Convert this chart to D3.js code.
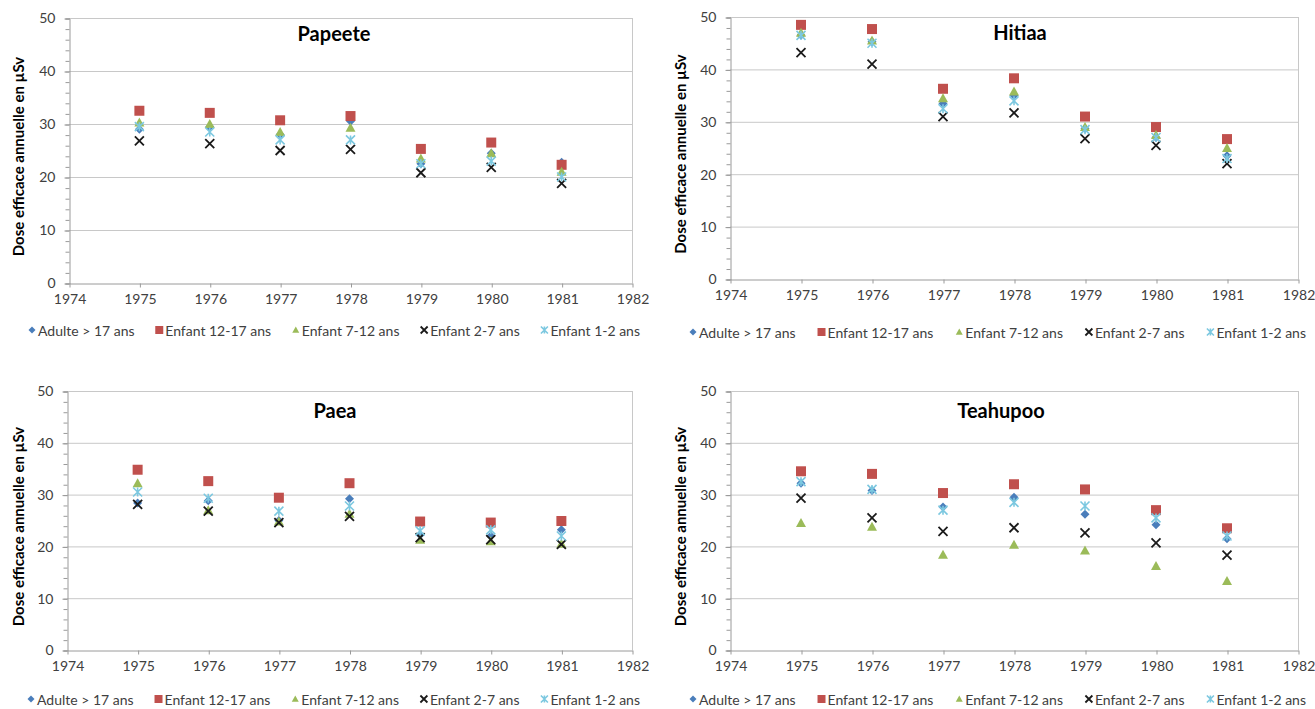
<!DOCTYPE html>
<html>
<head>
<meta charset="utf-8">
<script src="https://cdn.jsdelivr.net/npm/d3@7"></script>
<style>
  body { margin: 0; background: #fff; }
  text { font-family: Lato, "Open Sans", sans-serif; fill: #404040; }
</style>
</head>
<body>
<div id="svganchor"></div>
<script>
let width = 1315;
let height = 709;

// Categories / ticks
let years = [1975, 1976, 1977, 1978, 1979, 1980, 1981];
let xTicks = [1974, 1975, 1976, 1977, 1978, 1979, 1980, 1981, 1982];
let yTicks = [0, 10, 20, 30, 40, 50];
let seriesNames = ["Adulte > 17 ans", "Enfant 12-17 ans", "Enfant 7-12 ans", "Enfant 2-7 ans", "Enfant 1-2 ans"];
let siteNames = ["Papeete", "Hitiaa", "Paea", "Teahupoo"];
let yTitle = "Dose efficace annuelle en µSv";

// Values (µSv), one array per series, order as seriesNames
let papeeteValues = [
    [29.0, 29.5, 28.0, 30.5, 22.5, 24.5, 22.8],
    [32.5, 32.1, 30.7, 31.5, 25.3, 26.5, 22.3],
    [30.3, 30.0, 28.5, 29.3, 23.5, 24.5, 21.0],
    [26.8, 26.3, 25.0, 25.2, 20.8, 21.8, 18.8],
    [29.5, 28.5, 27.0, 27.0, 22.5, 23.0, 20.0]
];
let hitiaaValues = [
    [46.5, 45.3, 33.5, 35.0, 28.7, 27.0, 23.5],
    [48.5, 47.7, 36.3, 38.3, 31.0, 29.0, 26.7],
    [47.0, 45.5, 34.5, 35.8, 29.0, 27.5, 25.0],
    [43.2, 41.0, 31.0, 31.7, 26.8, 25.5, 22.0],
    [46.5, 45.0, 32.5, 34.0, 28.5, 27.0, 23.0]
];
let paeaValues = [
    [28.4, 28.8, 25.0, 29.2, 22.2, 22.0, 23.2],
    [34.8, 32.6, 29.4, 32.2, 24.8, 24.6, 24.9],
    [32.2, 27.0, 24.8, 26.3, 21.3, 21.0, 20.5],
    [28.1, 26.8, 24.6, 25.8, 21.7, 21.3, 20.4],
    [30.5, 29.3, 26.8, 27.8, 23.0, 23.2, 22.0]
];
let teahupooValues = [
    [32.2, 30.8, 27.6, 29.5, 26.2, 24.2, 21.5],
    [34.5, 34.0, 30.3, 32.0, 31.0, 27.0, 23.5],
    [24.5, 23.8, 18.4, 20.3, 19.2, 16.2, 13.3],
    [29.3, 25.5, 22.9, 23.6, 22.6, 20.7, 18.3],
    [32.5, 31.0, 27.0, 28.5, 27.8, 25.5, 22.0]
];
let allValues = [papeeteValues, hitiaaValues, paeaValues, teahupooValues];

let colors = ["#4A7EBB", "#C0504D", "#9BBB59", "#1a1a1a", "#7CC8E0"];

// Panel geometry (plot area in page pixels)
let panels = [
    {left: 69,  right: 632,  top: 18,  bottom: 283, titleX: 334,  titleY: 33,  legY: 330, legL: 28,  legR: 640, axisTitleX: 18},
    {left: 730, right: 1298, top: 17,  bottom: 279, titleX: 1020, titleY: 32,  legY: 332, legL: 689, legR: 1306, axisTitleX: 680},
    {left: 67,  right: 632,  top: 391, bottom: 650, titleX: 335,  titleY: 410, legY: 699, legL: 27,  legR: 640, axisTitleX: 18},
    {left: 730, right: 1298, top: 391, bottom: 650, titleX: 1001, titleY: 410, legY: 699, legL: 689, legR: 1306, axisTitleX: 680}
];

let svg = d3.select("#svganchor")
    .append("svg")
    .attr("width", width)
    .attr("height", height);

// Marker shapes, Excel style
function markerPath(kind, s) {
    let h = s / 2;
    let p = d3.path();
    if (kind === 0) {           // diamond
        p.moveTo(0, -h); p.lineTo(h, 0); p.lineTo(0, h); p.lineTo(-h, 0); p.closePath();
    } else if (kind === 1) {    // square
        p.rect(-h, -h, s, s);
    } else if (kind === 2) {    // triangle
        p.moveTo(0, -h); p.lineTo(h, h * 0.8); p.lineTo(-h, h * 0.8); p.closePath();
    } else if (kind === 3) {    // x
        p.moveTo(-h, -h); p.lineTo(h, h); p.moveTo(h, -h); p.lineTo(-h, h);
    } else {                    // star
        p.moveTo(-h, -h); p.lineTo(h, h); p.moveTo(h, -h); p.lineTo(-h, h);
        p.moveTo(0, -h); p.lineTo(0, h);
    }
    return p.toString();
}

function drawMarker(g, kind, x, y, s) {
    let m = g.append("path")
        .attr("transform", "translate(" + x + "," + y + ")")
        .attr("d", markerPath(kind, s));
    if (kind >= 3) {
        m.attr("fill", "none")
            .attr("stroke", colors[kind])
            .attr("stroke-width", kind === 3 ? 1.8 : 1.6);
    } else {
        m.attr("fill", colors[kind]);
    }
    return m;
}

let markerSize = [9, 10, 10, 9, 9];

panels.forEach(function(pn, pi) {
    let g = svg.append("g");

    let xScale = d3.scaleLinear().domain([1974, 1982]).range([pn.left, pn.right]);
    let yScale = d3.scaleLinear().domain([0, 50]).range([pn.bottom, pn.top]);

    // gridlines
    g.selectAll(".grid")
        .data(yTicks.filter(d => d > 0))
        .enter().append("line")
        .attr("x1", pn.left).attr("x2", pn.right)
        .attr("y1", d => yScale(d) + 0.5).attr("y2", d => yScale(d) + 0.5)
        .attr("stroke", "#c8c8c8");

    // right border of plot area
    g.append("line")
        .attr("x1", pn.right + 0.5).attr("x2", pn.right + 0.5)
        .attr("y1", pn.top).attr("y2", pn.bottom)
        .attr("stroke", "#c8c8c8");

    // y axis with minor ticks
    let yMinor = d3.axisLeft(yScale).tickValues(d3.range(0, 51, 2)).tickSize(4).tickFormat("");
    let gyMinor = g.append("g")
        .attr("transform", "translate(" + (pn.left + 0.5) + ",0.5)")
        .call(yMinor);
    gyMinor.selectAll("line").attr("stroke", "#9a9a9a");
    gyMinor.select(".domain").attr("stroke", "#9a9a9a");

    let yAxis = d3.axisLeft(yScale).tickValues(yTicks).tickSize(5).tickPadding(9).tickFormat(d3.format("d"));
    let gy = g.append("g")
        .attr("transform", "translate(" + (pn.left + 0.5) + ",0.5)")
        .call(yAxis);
    gy.select(".domain").remove();
    gy.selectAll("line").attr("stroke", "#9a9a9a");
    gy.selectAll("text").style("font-size", "14px").attr("fill", "#404040").attr("font-family", "Lato");

    // x axis
    let xAxis = d3.axisBottom(xScale).tickValues(xTicks).tickSize(4).tickPadding(7).tickFormat(d3.format("d")).tickSizeOuter(0);
    let gx = g.append("g")
        .attr("transform", "translate(0.5," + (pn.bottom + 0.5) + ")")
        .call(xAxis);
    gx.select(".domain").attr("stroke", "#9a9a9a");
    gx.selectAll("line").attr("stroke", "#9a9a9a");
    gx.selectAll("text").style("font-size", "14px").attr("fill", "#404040").attr("font-family", "Lato");

    // chart title
    g.append("text")
        .attr("x", pn.titleX).attr("y", pn.titleY)
        .attr("text-anchor", "middle")
        .attr("dominant-baseline", "central")
        .style("font-size", "20px").style("font-weight", "bold")
        .style("fill", "#000")
        .text(siteNames[pi]);

    // y axis title
    let cy = (pn.top + pn.bottom) / 2 + 6;
    g.append("text")
        .attr("transform", "translate(" + pn.axisTitleX + "," + cy + ") rotate(-90)")
        .attr("text-anchor", "middle")
        .attr("dominant-baseline", "central")
        .style("font-size", "15px").style("font-weight", "bold")
        .style("fill", "#000")
        .text(yTitle);

    // series
    let values = allValues[pi];
    values.forEach(function(series, si) {
        series.forEach(function(v, i) {
            drawMarker(g, si, xScale(years[i]), yScale(v), markerSize[si]);
        });
    });

    // legend, spread evenly across the legend span
    let lg = g.append("g");
    let items = seriesNames.map(function(name, si) {
        let t = lg.append("text")
            .attr("y", pn.legY)
            .attr("dominant-baseline", "central")
            .style("font-size", "14px")
            .text(name);
        return {t: t, w: t.node().getComputedTextLength() + 10, si: si};
    });
    let total = d3.sum(items, d => d.w);
    let gap = (pn.legR - pn.legL - total) / (items.length - 1);
    let x = pn.legL;
    items.forEach(function(it) {
        drawMarker(lg, it.si, x + 4, pn.legY, it.si === 1 ? 8 : 7);
        it.t.attr("x", x + 10);
        x += it.w + gap;
    });
});
</script>
</body>
</html>
